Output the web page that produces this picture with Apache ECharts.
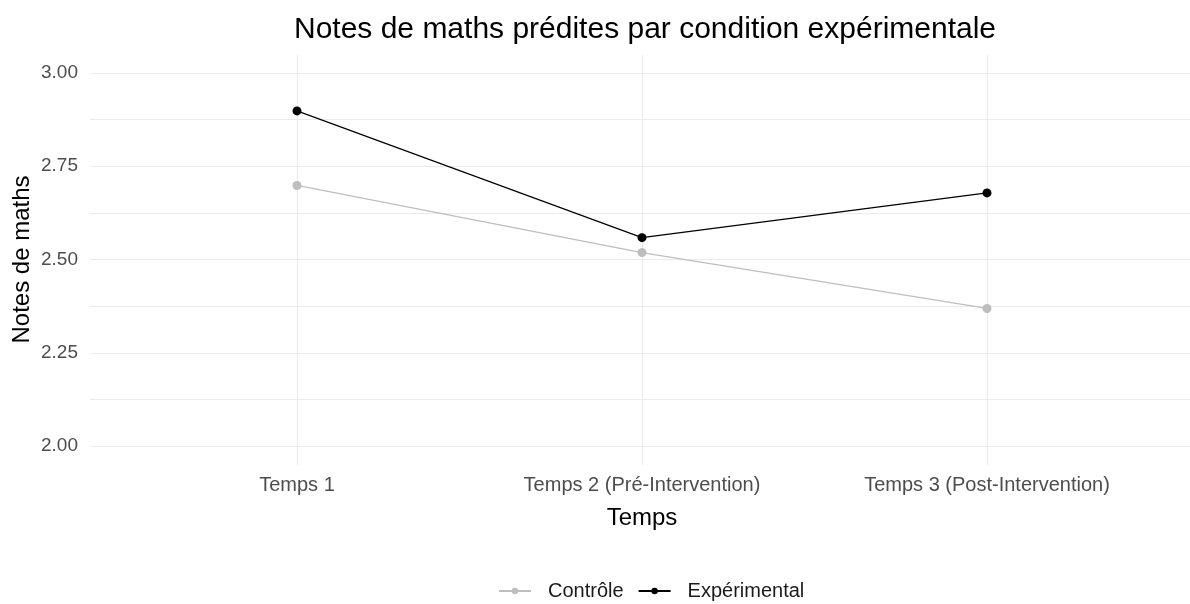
<!DOCTYPE html>
<html>
<head>
<meta charset="utf-8">
<script src="https://cdn.jsdelivr.net/npm/echarts@6/dist/echarts.min.js"></script>
<style>
  html, body { margin: 0; padding: 0; background: #fff; }
  #main { width: 1190px; height: 604px; }
</style>
</head>
<body>
<div id="main"></div>
<script>
// données
const categories = ['Temps 1', 'Temps 2 (Pré-Intervention)', 'Temps 3 (Post-Intervention)'];
const controle = [2.70, 2.52, 2.37];
const experimental = [2.90, 2.56, 2.68];
const yTicks = [2.00, 2.25, 2.50, 2.75, 3.00];

const font = 'Liberation Sans, Arial, sans-serif';
const gridColor = '#ebebeb';

const chart = echarts.init(document.getElementById('main'));

const option = {
  animation: false,
  textStyle: { fontFamily: font },
  title: {
    text: 'Notes de maths prédites par condition expérimentale',
    left: 640,
    top: 10,
    textAlign: 'center',
    textStyle: { fontSize: 30, fontWeight: 'normal', color: '#000', fontFamily: font }
  },
  legend: {
    top: 576,
    left: 493,
    itemWidth: 32,
    itemHeight: 8,
    itemGap: 14,
    textStyle: { fontSize: 20, color: '#1a1a1a', fontFamily: font, padding: [0, 0, 0, 12] },
    data: ['Contrôle', 'Expérimental']
  },
  grid: [
    // grille horizontale (2 -> 3)
    { left: 90, right: -4, top: 73, height: 373 },
    // zone des points
    { left: 297, width: 690, top: 55, height: 410 }
  ],
  xAxis: [
    { gridIndex: 0, type: 'value', show: false, min: 0, max: 1 },
    {
      gridIndex: 1,
      type: 'category',
      data: categories,
      boundaryGap: false,
      axisLine: { show: false },
      axisTick: { show: false },
      axisLabel: { color: '#4d4d4d', fontSize: 20, margin: 10, fontFamily: font },
      splitLine: { show: true, lineStyle: { color: gridColor, width: 1 } },
      name: 'Temps',
      nameLocation: 'middle',
      nameGap: 41,
      nameMoveOverlap: false,
      nameTextStyle: { fontSize: 24, color: '#000', fontFamily: font }
    }
  ],
  yAxis: [
    {
      gridIndex: 0,
      type: 'value',
      min: yTicks[0],
      max: yTicks[yTicks.length - 1],
      interval: 0.25,
      axisLine: { show: false },
      axisTick: { show: false },
      axisLabel: {
        color: '#4d4d4d', fontSize: 19, margin: 12, fontFamily: font,
        formatter: v => v.toFixed(2)
      },
      splitLine: { lineStyle: { color: gridColor, width: 1 } },
      minorTick: { show: false, splitNumber: 2 },
      minorSplitLine: { show: true, lineStyle: { color: gridColor, width: 1 } },
      name: 'Notes de maths',
      nameLocation: 'middle',
      nameGap: 56,
      nameMoveOverlap: false,
      nameTextStyle: { fontSize: 24, color: '#000', fontFamily: font }
    },
    { gridIndex: 1, type: 'value', min: 1.95, max: 3.05, show: false }
  ],
  series: [
    {
      name: 'Contrôle',
      type: 'line',
      xAxisIndex: 1,
      yAxisIndex: 1,
      data: controle,
      symbol: 'circle',
      symbolSize: 9,
      color: '#bebebe',
      lineStyle: { width: 1.2, color: '#bebebe' },
      itemStyle: { color: '#bebebe' }
    },
    {
      name: 'Expérimental',
      type: 'line',
      xAxisIndex: 1,
      yAxisIndex: 1,
      data: experimental,
      symbol: 'circle',
      symbolSize: 9,
      color: '#000',
      lineStyle: { width: 1.2, color: '#000' },
      itemStyle: { color: '#000' }
    }
  ]
};

chart.setOption(option);
</script>
</body>
</html>
